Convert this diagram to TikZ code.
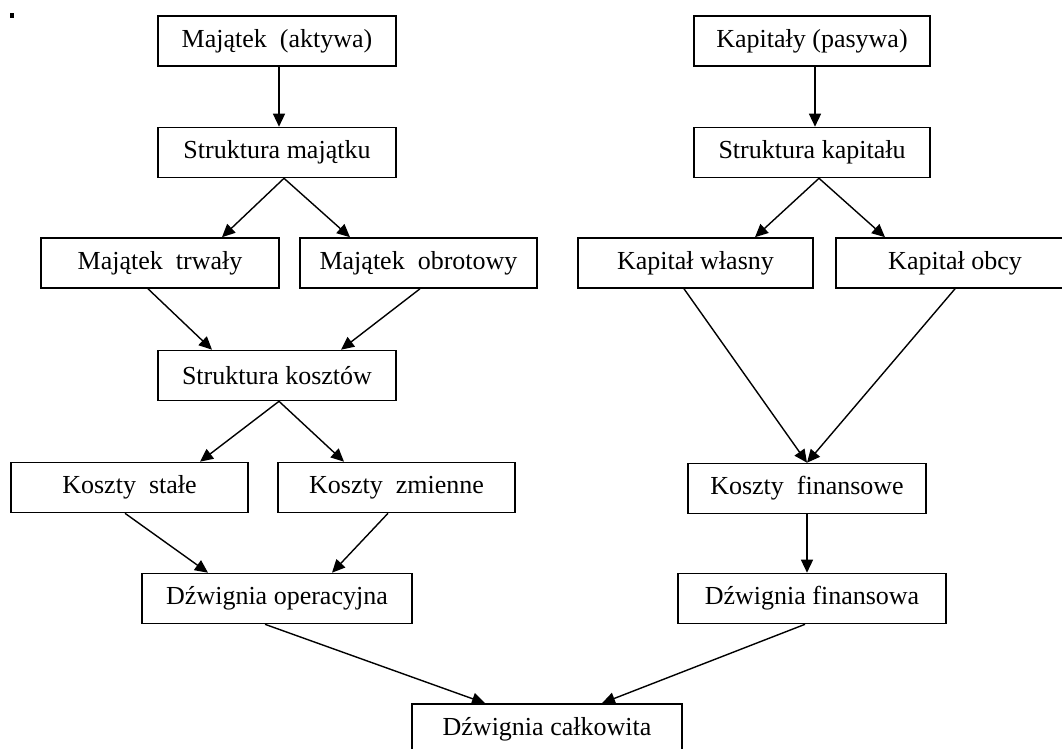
\documentclass[tikz,border=0pt]{standalone}
\usepackage{fontspec}
\setmainfont{Liberation Serif}
\usetikzlibrary{arrows.meta}
\begin{document}
\begin{tikzpicture}[x=1pt,y=-1pt,
  box/.style={draw, line width=1.6pt, inner sep=0pt, minimum height=50pt,
    font=\fontsize{26}{30}\selectfont, text=black},
  arr/.style={line width=1.4pt, -{Triangle[length=13pt,width=12pt]}}]
\useasboundingbox (0,0) rectangle (1062,749);
\clip (0,0) rectangle (1062,749);
\fill[black] (10,13) rectangle (14,18);
% left column
\node[box, minimum width=238pt] (ma)  at (277,41)    {Majątek\ \ (aktywa)};
\node[box, minimum width=238pt] (sm)  at (277,152.5) {Struktura majątku};
\node[box, minimum width=238pt] (mt)  at (160,263)   {Majątek\ \ trwały};
\node[box, minimum width=237pt] (mo)  at (418.5,263) {Majątek\ \ obrotowy};
\node[box, minimum width=238pt] (skz) at (277,375.5) {Struktura kosztów};
\node[box, minimum width=237pt] (ks)  at (129.5,487.5) {Koszty\ \ stałe};
\node[box, minimum width=237pt] (kz)  at (396.5,487.5) {Koszty\ \ zmienne};
\node[box, minimum width=270pt] (do)  at (277,598.5) {Dźwignia operacyjna};
% right column
\node[box, minimum width=236pt] (kp)  at (812,41)    {Kapitały (pasywa)};
\node[box, minimum width=236pt] (sk)  at (812,152.5) {Struktura kapitału};
\node[box, minimum width=235pt] (kw)  at (695.5,263) {Kapitał własny};
\node[box, minimum width=238pt] (ko)  at (955,263)   {Kapitał obcy};
\node[box, minimum width=238pt] (kf)  at (807,488.5) {Koszty\ \ finansowe};
\node[box, minimum width=268pt] (df)  at (812,598.5) {Dźwignia finansowa};
% bottom
\node[box, minimum width=270pt] (dc)  at (547,729)   {Dźwignia całkowita};
% arrows left
\draw[arr] ([xshift=2]ma.south) -- ([xshift=2]sm.north);
\draw[arr] ([xshift=7]sm.south) -- ([xshift=62]mt.north);
\draw[arr] ([xshift=7]sm.south) -- ([xshift=-68.5]mo.north);
\draw[arr] ([xshift=-12]mt.south) -- ([xshift=-65]skz.north);
\draw[arr] ([xshift=1.5]mo.south) -- ([xshift=64]skz.north);
\draw[arr] ([xshift=2]skz.south) -- ([xshift=70.5]ks.north);
\draw[arr] ([xshift=2]skz.south) -- ([xshift=-52.5]kz.north);
\draw[arr] ([xshift=-4.5]ks.south) -- ([xshift=-69]do.north);
\draw[arr] ([xshift=-8.5]kz.south) -- ([xshift=55]do.north);
% arrows right
\draw[arr] ([xshift=3]kp.south) -- ([xshift=3]sk.north);
\draw[arr] ([xshift=7]sk.south) -- ([xshift=59.5]kw.north);
\draw[arr] ([xshift=7]sk.south) -- ([xshift=-70]ko.north);
\draw[arr] ([xshift=-11.5]kw.south) -- (kf.north);
\draw[arr] (ko.south) -- (kf.north);
\draw[arr] (kf.south) -- ([xshift=-5]df.north);
% to total
\draw[arr] ([xshift=-12]do.south) -- ([xshift=-62]dc.north);
\draw[arr] ([xshift=-7]df.south) -- ([xshift=55]dc.north);
\end{tikzpicture}
\end{document}
